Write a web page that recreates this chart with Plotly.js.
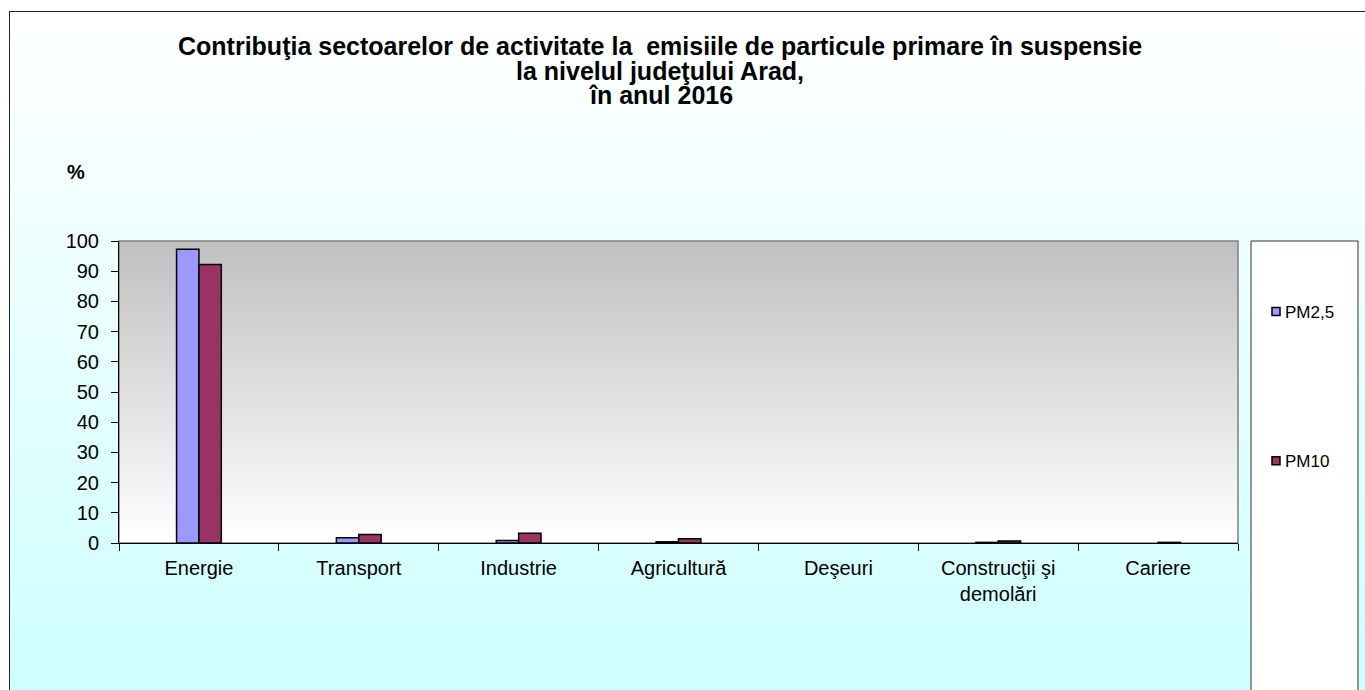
<!DOCTYPE html>
<html>
<head>
<meta charset="utf-8">
<script src="https://cdn.plot.ly/plotly-3.0.1.min.js"></script>
<style>
  html, body { margin: 0; padding: 0; background: #ffffff; width: 1365px; height: 690px; overflow: hidden; }
  #bg { position: absolute; left: 9px; top: 11px; width: 1370px; height: 700px;
        border: 1px solid #222222; background: linear-gradient(#ffffff, #ccffff); }
  #chart { position: absolute; left: 0; top: 0; width: 1365px; height: 690px; }
</style>
</head>
<body>
<div id="bg"></div>
<div id="chart"></div>
<script>
const categories = ['Energie', 'Transport', 'Industrie', 'Agricultură', 'Deşeuri', 'Construcţii şi<br>demolări', 'Cariere'];
const seriesNames = ['PM2,5', 'PM10'];
const pm25 = [97.3, 1.7, 0.8, 0.4, 0, 0.2, 0];
const pm10 = [92.2, 2.8, 3.2, 1.4, 0, 0.7, 0.2];
const yTicks = [0, 10, 20, 30, 40, 50, 60, 70, 80, 90, 100];
const titleLines = [
  'Contribuţia sectoarelor de activitate la\u00a0 emisiile de particule primare în suspensie',
  'la nivelul judeţului Arad,',
  'în anul 2016'
];
const yUnit = '%';

const FONT = 'Liberation Sans, Arial, sans-serif';

const plotGrad = 'data:image/svg+xml;utf8,' + encodeURIComponent(
  '<svg xmlns="http://www.w3.org/2000/svg" width="100" height="100" preserveAspectRatio="none">' +
  '<defs><linearGradient id="g" x1="0" y1="0" x2="0" y2="1">' +
  '<stop offset="0" stop-color="#c0c0c0"/><stop offset="1" stop-color="#ffffff"/>' +
  '</linearGradient></defs><rect width="100" height="100" fill="url(#g)"/></svg>');

const lw = vals => vals.map(v => (v > 0 ? 1.5 : 0));

const traces = [
  { type: 'bar', name: seriesNames[0], x: categories, y: pm25, legendgroup: 'a',
    marker: { color: '#9999ff', line: { color: '#000000', width: lw(pm25) } } },
  { type: 'bar', name: seriesNames[1], x: categories, y: pm10, legendgroup: 'b',
    marker: { color: '#993366', line: { color: '#000000', width: lw(pm10) } } }
];

const titleCenters = [46, 70.5, 95];
const annotations = titleLines.map((t, i) => ({
  text: '<b>' + t + '</b>', xref: 'paper', yref: 'paper',
  x: (660 - 119) / 1119, y: (543 - titleCenters[i]) / 302,
  xanchor: 'center', yanchor: 'middle', showarrow: false,
  font: { family: FONT, size: 25, color: '#000000' }
}));
annotations.push({
  text: '<b>' + yUnit + '</b>', xref: 'paper', yref: 'paper',
  x: (65 - 119) / 1119, y: (543 - 172) / 302, xanchor: 'left', yanchor: 'middle',
  showarrow: false, font: { family: FONT, size: 20, color: '#000000' }
});

const layout = {
  width: 1365, height: 690,
  margin: { l: 119, r: 127, t: 241, b: 147, pad: 0 },
  paper_bgcolor: 'rgba(0,0,0,0)',
  plot_bgcolor: 'rgba(0,0,0,0)',
  barmode: 'group', bargap: 0.72, bargroupgap: 0,
  showlegend: true,
  legend: {
    x: (1245 - 119) / 1119, xanchor: 'left',
    y: (543 - 294) / 302, yanchor: 'top',
    traceorder: 'grouped', tracegroupgap: 124,
    bgcolor: 'rgba(0,0,0,0)', borderwidth: 0,
    font: { family: FONT, size: 17, color: '#000000' }
  },
  xaxis: {
    type: 'category', showgrid: false, showline: true, linecolor: '#000000', linewidth: 1,
    ticks: 'outside', tickson: 'boundaries', ticklen: 7, tickcolor: '#000000',
    ticklabelstandoff: 7,
    tickfont: { family: FONT, size: 20, color: '#000000' }, fixedrange: true
  },
  yaxis: {
    range: [0, 100], tickvals: yTicks, showgrid: false, zeroline: false,
    showline: true, linecolor: '#000000', linewidth: 1,
    ticks: 'outside', ticklen: 7, tickcolor: '#000000',
    ticklabelstandoff: 8,
    tickfont: { family: FONT, size: 20, color: '#000000' }, fixedrange: true
  },
  images: [{ source: plotGrad, xref: 'paper', yref: 'paper', x: 0, y: 1, sizex: 1, sizey: 1,
             xanchor: 'left', yanchor: 'top', sizing: 'stretch', layer: 'below' }],
  shapes: [
    { type: 'rect', xref: 'paper', yref: 'paper', x0: 0, x1: 1, y0: 0, y1: 1,
      line: { color: '#808080', width: 1.5 }, fillcolor: 'rgba(0,0,0,0)', layer: 'below' },
    { type: 'rect', xref: 'paper', yref: 'paper',
      x0: (1251 - 119) / 1119, x1: (1358 - 119) / 1119, y0: (543 - 720) / 302, y1: 1,
      line: { color: '#333333', width: 1 }, fillcolor: '#ffffff', layer: 'below' }
  ],
  annotations: annotations,
  font: { family: FONT }
};

Plotly.newPlot('chart', traces, layout, { displayModeBar: false, staticPlot: true }).then(() => {
  // smaller legend swatches, placed close to the text as in the reference
  document.querySelectorAll('#chart .legend .legendpoints path').forEach(p => {
    p.setAttribute('d', 'M15,4H7V-4H15Z');
    p.style.strokeWidth = '1.5px';
  });
});
</script>
</body>
</html>
